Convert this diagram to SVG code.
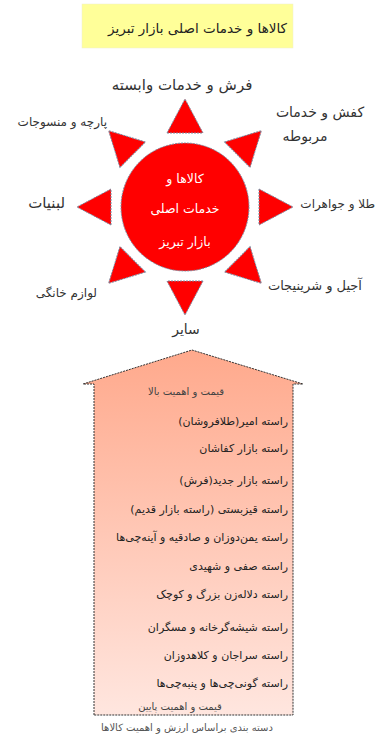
<svg xmlns="http://www.w3.org/2000/svg" width="375" height="736" viewBox="0 0 375 736">
<style>
text{font-family:"DejaVu Sans","Noto Sans",sans-serif;direction:rtl;unicode-bidi:embed}
.lbl{font-size:12px;fill:#333}
.in{font-size:12.5px;fill:#ffffff}
.row{font-size:11px;fill:#222;text-anchor:start}
.sm{font-size:10px;fill:#444;text-anchor:middle}
.ray{fill:#ff0000;stroke:#7a8aa0;stroke-width:1;stroke-dasharray:2 1}
</style>
<defs>
<linearGradient id="hg" x1="0" y1="0" x2="0" y2="1">
<stop offset="0" stop-color="#ffa98c"/>
<stop offset="1" stop-color="#ffe6df"/>
</linearGradient>
<polygon id="tri" points="-18,-74 18,-74 0,-108" class="ray"/>
</defs>
<g id="title">
<rect x="82" y="4" width="211" height="44" fill="#ffff99" stroke="#eeeecc" stroke-width="0.5"/>
<text x="287" y="33" style="font-size:13.5px;fill:#222;text-anchor:start">کالاها و خدمات اصلی بازار تبریز</text>
</g>
<g id="sun">
<g transform="translate(185,207)">
<use href="#tri" transform="rotate(0)"/>
<use href="#tri" transform="rotate(45)"/>
<use href="#tri" transform="rotate(90)"/>
<use href="#tri" transform="rotate(135)"/>
<use href="#tri" transform="rotate(180)"/>
<use href="#tri" transform="rotate(225)"/>
<use href="#tri" transform="rotate(270)"/>
<use href="#tri" transform="rotate(315)"/>
<circle cx="0" cy="0" r="64" class="ray"/>
</g>
<text class="in" x="185" y="183" text-anchor="middle">کالاها و</text>
<text class="in" x="185" y="213" text-anchor="middle">خدمات اصلی</text>
<text class="in" x="185" y="246" text-anchor="middle">بازار تبریز</text>
</g>
<g id="labels">
<text class="lbl" x="182" y="90" text-anchor="middle" style="font-size:15px">فرش و خدمات وابسته</text>
<text class="lbl" x="107" y="126" style="text-anchor:start">پارچه و منسوجات</text>
<text class="lbl" x="320" y="117" text-anchor="middle" style="font-size:14px">کفش و خدمات</text>
<text class="lbl" x="305" y="141" text-anchor="middle" style="font-size:14px">مربوطه</text>
<text class="lbl" x="375" y="208" style="text-anchor:start">طلا و جواهرات</text>
<text class="lbl" x="65" y="208" style="text-anchor:start;font-size:15px">لبنیات</text>
<text class="lbl" x="97" y="297" style="text-anchor:start">لوازم خانگی</text>
<text class="lbl" x="362" y="290" style="text-anchor:start;font-size:13px">آجیل و شرینیجات</text>
<text class="lbl" x="186" y="334" text-anchor="middle" style="font-size:14px">سایر</text>
</g>
<g id="house">
<polygon points="94,715 94,384 83,384 192,350 303,384 293,384 293,715" fill="url(#hg)" stroke="#333" stroke-width="1" stroke-dasharray="2 1"/>
<text class="sm" x="186" y="395">قیمت و اهمیت بالا</text>
<text class="row" x="288" y="425">راسته امیر(طلافروشان)</text>
<text class="row" x="288" y="452">راسته بازار کفاشان</text>
<text class="row" x="288" y="484">راسته بازار جدید(فرش)</text>
<text class="row" x="288" y="513">راسته قیزبستی (راسته بازار قدیم)</text>
<text class="row" x="288" y="541">راسته یمن‌دوزان و صادقیه و آینه‌چی‌ها</text>
<text class="row" x="288" y="570">راسته صفی و شهیدی</text>
<text class="row" x="288" y="598">راسته دلاله‌زن بزرگ و کوچک</text>
<text class="row" x="288" y="631">راسته شیشه‌گرخانه و مسگران</text>
<text class="row" x="288" y="659">راسته سراجان و کلاهدوزان</text>
<text class="row" x="288" y="687">راسته گونی‌چی‌ها و پنبه‌چی‌ها</text>
<text class="sm" x="180" y="710">قیمت و اهمیت پایین</text>
</g>
<text x="187" y="731" style="font-size:10px;fill:#555;text-anchor:middle">دسته بندی براساس ارزش و اهمیت کالاها</text>
</svg>
